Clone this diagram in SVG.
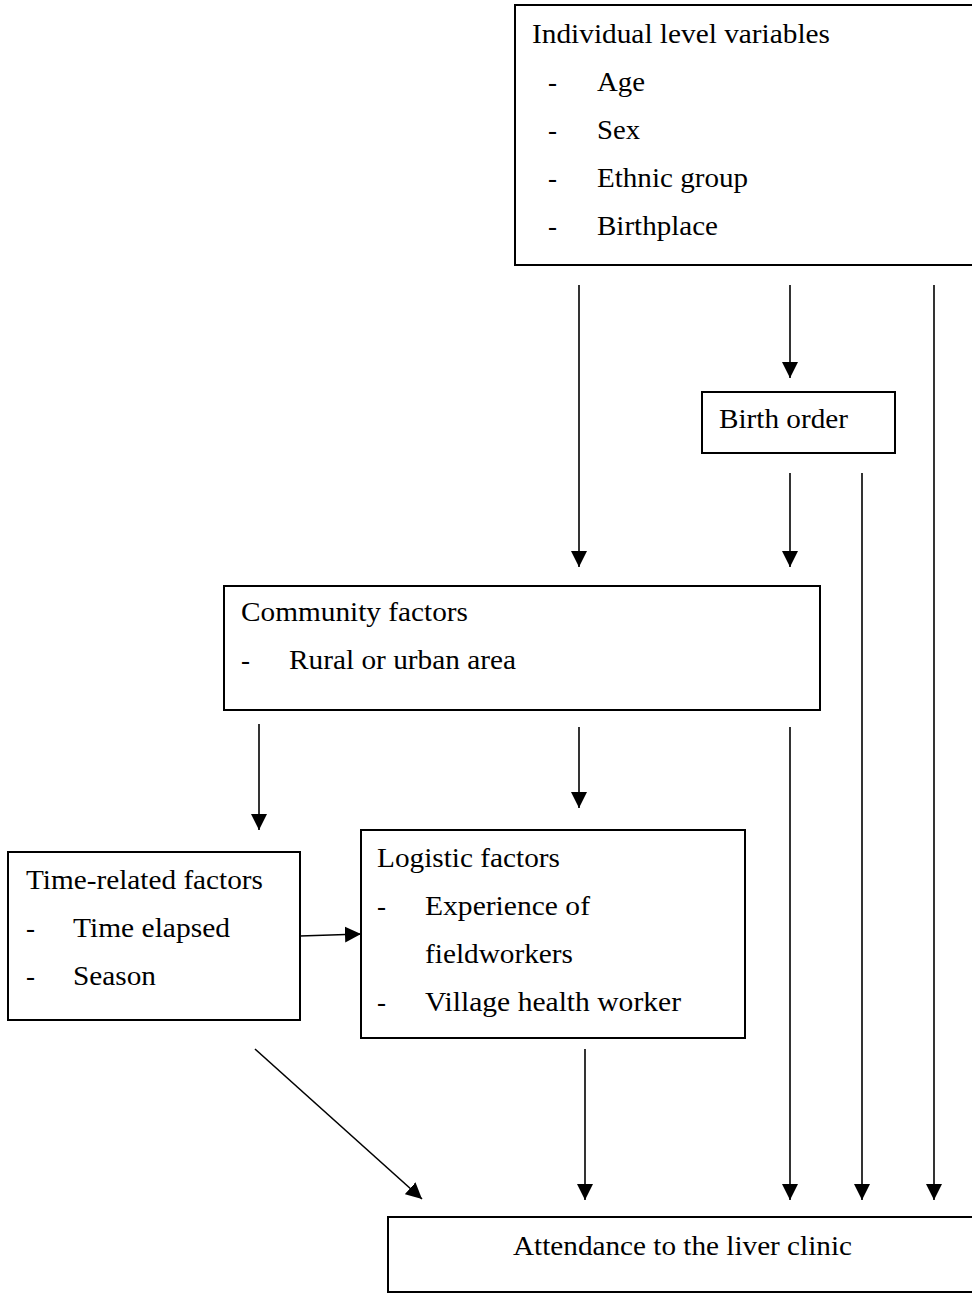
<svg xmlns="http://www.w3.org/2000/svg" width="972" height="1293" viewBox="0 0 972 1293">
<style>
.box{fill:#fff;stroke:#000;stroke-width:2}
.t{font-family:'Liberation Serif','Times New Roman',Times,Tinos,serif;font-size:27px;fill:#000}
.c{stroke:#000;stroke-width:1.6;fill:none;marker-end:url(#ah)}
</style>
<defs>
<marker id="ah" markerUnits="userSpaceOnUse" markerWidth="16" markerHeight="16" viewBox="0 0 15 15" refX="15" refY="7.5" orient="auto">
<path d="M0,0 L15,7.5 L0,15 Z" fill="#000"/>
</marker>
</defs>
<rect width="972" height="1293" fill="#fff"/>
<g id="connectors">
<line class="c" x1="579" y1="285" x2="579" y2="567"/>
<line class="c" x1="790" y1="285" x2="790" y2="378"/>
<line class="c" x1="934" y1="285" x2="934" y2="1200"/>
<line class="c" x1="790" y1="473" x2="790" y2="567"/>
<line class="c" x1="862" y1="473" x2="862" y2="1200"/>
<line class="c" x1="259" y1="724" x2="259" y2="830"/>
<line class="c" x1="579" y1="727" x2="579" y2="808"/>
<line class="c" x1="790" y1="727" x2="790" y2="1200"/>
<line class="c" x1="300" y1="936" x2="361" y2="934"/>
<line class="c" x1="255" y1="1049" x2="422" y2="1199"/>
<line class="c" x1="585" y1="1049" x2="585" y2="1200"/>
</g>
<g id="individual">
<rect class="box" x="515" y="5" width="470" height="260"/>
<text class="t" font-family="Liberation Serif, serif" x="532" y="43" textLength="298" lengthAdjust="spacingAndGlyphs">Individual level variables</text>
<text class="t" x="548" y="91">-</text><text class="t" x="597" y="91" textLength="48" lengthAdjust="spacingAndGlyphs">Age</text>
<text class="t" x="548" y="139">-</text><text class="t" x="597" y="139" textLength="43" lengthAdjust="spacingAndGlyphs">Sex</text>
<text class="t" x="548" y="187">-</text><text class="t" x="597" y="187" textLength="151" lengthAdjust="spacingAndGlyphs">Ethnic group</text>
<text class="t" x="548" y="235">-</text><text class="t" x="597" y="235" textLength="121" lengthAdjust="spacingAndGlyphs">Birthplace</text>
</g>
<g id="birth-order">
<rect class="box" x="702" y="392" width="193" height="61"/>
<text class="t" x="719" y="428" textLength="129" lengthAdjust="spacingAndGlyphs">Birth order</text>
</g>
<g id="community">
<rect class="box" x="224" y="586" width="596" height="124"/>
<text class="t" x="241" y="621" textLength="227" lengthAdjust="spacingAndGlyphs">Community factors</text>
<text class="t" x="241" y="669">-</text><text class="t" x="289" y="669" textLength="227" lengthAdjust="spacingAndGlyphs">Rural or urban area</text>
</g>
<g id="time-related">
<rect class="box" x="8" y="852" width="292" height="168"/>
<text class="t" x="26" y="889" textLength="237" lengthAdjust="spacingAndGlyphs">Time-related factors</text>
<text class="t" x="26" y="937">-</text><text class="t" x="73" y="937" textLength="157" lengthAdjust="spacingAndGlyphs">Time elapsed</text>
<text class="t" x="26" y="985">-</text><text class="t" x="73" y="985" textLength="83" lengthAdjust="spacingAndGlyphs">Season</text>
</g>
<g id="logistic">
<rect class="box" x="361" y="830" width="384" height="208"/>
<text class="t" x="377" y="867" textLength="183" lengthAdjust="spacingAndGlyphs">Logistic factors</text>
<text class="t" x="377" y="915">-</text><text class="t" x="425" y="915" textLength="165" lengthAdjust="spacingAndGlyphs">Experience of</text>
<text class="t" x="425" y="963" textLength="148" lengthAdjust="spacingAndGlyphs">fieldworkers</text>
<text class="t" x="377" y="1011">-</text><text class="t" x="425" y="1011" textLength="256" lengthAdjust="spacingAndGlyphs">Village health worker</text>
</g>
<g id="attendance">
<rect class="box" x="388" y="1217" width="600" height="75"/>
<text class="t" x="513" y="1255" textLength="339" lengthAdjust="spacingAndGlyphs">Attendance to the liver clinic</text>
</g>
</svg>
